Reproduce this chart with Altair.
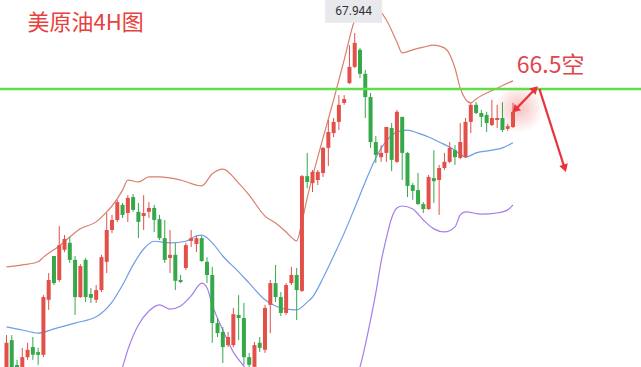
import altair as alt
import pandas as pd

# 4H candles for US crude (oldest first)
opens = [59.20, 60.02, 59.38, 59.12, 59.58, 59.84, 59.71, 59.64, 61.06, 62.19,
         61.57, 62.35, 62.53, 62.09, 61.13, 62.09, 61.21, 61.06, 61.31, 62.04,
         62.86, 63.12, 63.51, 63.30, 63.71, 63.33, 63.22, 63.33, 63.43, 63.14,
         62.65, 62.14, 62.22, 61.57, 61.88, 62.58, 62.50, 62.65, 62.04, 61.70,
         60.46, 60.23, 59.89, 59.89, 60.67, 60.59, 59.58, 59.33, 59.95, 59.77,
         60.93, 61.49, 61.13, 60.72, 61.49, 61.70, 61.29, 64.25, 64.07, 64.15,
         64.33, 64.98, 65.36, 65.65, 66.14, 66.65, 67.07, 67.51, 66.89, 66.29,
         65.13, 64.74, 64.85, 65.49, 64.62, 65.78, 64.85, 64.02, 63.89, 63.53,
         63.40, 64.20, 64.15, 64.46, 64.62, 64.92, 64.72, 64.74, 65.65, 66.09,
         65.88, 65.83, 65.57, 65.70, 65.75, 65.47, 65.52]
closes = [59.95, 59.25, 58.99, 59.58, 59.77, 59.64, 59.64, 61.13, 61.57, 61.49,
          62.47, 62.63, 62.09, 61.13, 61.93, 61.13, 61.11, 61.31, 62.16, 62.86,
          63.12, 63.58, 63.25, 63.69, 63.38, 63.07, 63.30, 63.43, 63.12, 62.65,
          62.09, 62.22, 61.55, 61.52, 62.47, 62.65, 62.65, 62.06, 61.70, 60.46,
          60.20, 59.84, 60.10, 60.69, 60.59, 59.58, 59.38, 59.89, 59.82, 60.85,
          61.49, 61.13, 60.72, 61.44, 61.70, 61.31, 64.25, 64.10, 64.36, 64.36,
          64.98, 65.39, 65.65, 66.09, 66.24, 67.07, 67.69, 66.89, 66.29, 65.13,
          64.80, 64.85, 65.52, 64.67, 65.91, 64.85, 64.00, 63.87, 63.53, 63.40,
          64.23, 64.12, 64.46, 64.62, 64.98, 64.74, 65.13, 65.65, 66.09, 65.88,
          65.78, 65.62, 65.75, 65.75, 65.44, 65.54, 65.91]
highs = [60.15, 60.15, 59.51, 59.82, 59.95, 60.10, 59.82, 61.18, 61.75, 62.19,
         62.96, 62.73, 62.68, 62.19, 61.98, 62.14, 61.36, 61.44, 62.22, 63.30,
         63.25, 63.64, 63.56, 63.76, 63.79, 63.56, 63.76, 63.58, 63.51, 63.25,
         63.12, 62.86, 62.53, 61.70, 62.53, 62.86, 62.71, 62.71, 62.16, 61.91,
         60.59, 60.36, 60.23, 60.85, 61.18, 60.98, 59.69, 59.97, 60.10, 60.93,
         61.57, 61.96, 61.26, 61.49, 61.91, 61.88, 64.28, 64.85, 64.41, 64.41,
         65.00, 65.70, 65.75, 66.34, 66.34, 67.63, 67.944, 67.56, 66.99, 66.40,
         65.29, 65.05, 65.52, 65.62, 65.96, 65.78, 64.87, 64.07, 64.33, 63.58,
         64.28, 64.92, 64.54, 64.85, 65.13, 65.05, 65.62, 65.75, 66.14, 66.16,
         65.96, 65.91, 66.22, 66.09, 66.16, 65.60, 66.14]
lows = [59.12, 59.12, 58.86, 59.04, 59.51, 59.51, 59.38, 59.58, 60.80, 61.44,
        61.52, 62.29, 62.01, 60.67, 61.11, 61.00, 60.98, 60.98, 61.26, 61.75,
        62.78, 63.07, 63.17, 63.07, 63.33, 62.65, 62.86, 63.17, 62.81, 62.60,
        62.01, 61.75, 61.31, 61.49, 61.83, 62.42, 62.29, 62.04, 61.49, 59.95,
        60.10, 59.43, 59.84, 59.84, 60.02, 59.38, 59.30, 59.25, 59.71, 59.69,
        60.20, 61.00, 60.64, 60.67, 61.44, 60.54, 61.26, 63.94, 63.84, 64.02,
        64.23, 64.51, 65.26, 65.44, 66.09, 66.63, 67.04, 66.78, 65.75, 64.98,
        64.59, 64.62, 64.62, 64.38, 64.59, 64.15, 63.71, 63.64, 63.51, 63.30,
        63.38, 63.56, 63.25, 64.41, 64.59, 64.54, 64.69, 64.72, 65.36, 65.85,
        65.52, 65.39, 65.54, 65.49, 65.39, 65.42, 65.49]

# Bollinger bands, sampled at candle indices
upper_idx = [0, 3, 6, 7, 10, 12, 14, 17, 19, 20, 22, 23, 25, 27, 29, 33, 37, 39, 41, 44,
             46, 49, 51, 53, 55, 56, 57, 59, 62, 64, 66, 67, 68, 70, 72, 74, 75, 77, 79,
             81, 83, 85, 86, 88, 89, 93, 96]
upper_val = [61.91, 61.96, 62.04, 62.16, 62.45, 62.68, 62.89, 63.07, 63.33, 63.48, 63.89,
             64.15, 64.10, 64.23, 64.23, 64.15, 64.00, 64.31, 64.43, 64.07, 63.76, 63.22,
             63.04, 62.81, 62.58, 63.07, 63.69, 64.74, 66.22, 67.25, 68.28, 68.54, 68.61,
             68.59, 68.28, 67.71, 67.43, 67.51, 67.58, 67.63, 67.56, 67.04, 66.52, 66.14,
             66.24, 66.52, 66.71]
mid_idx = [0, 3, 6, 9, 13, 17, 20, 22, 24, 26, 28, 31, 34, 36, 37, 39, 41, 44, 46, 49,
           51, 53, 55, 57, 58, 60, 62, 64, 66, 68, 70, 72, 74, 76, 78, 80, 82, 84, 86, 87,
           89, 92, 94, 96]
mid_val = [60.36, 60.28, 60.20, 60.31, 60.46, 60.62, 61.00, 61.44, 61.96, 62.37, 62.57,
           62.53, 62.57, 62.71, 62.73, 62.53, 62.19, 61.78, 61.49, 61.06, 60.90, 60.82,
           60.80, 61.00, 61.13, 61.62, 62.19, 62.78, 63.43, 64.10, 64.72, 65.16, 65.39,
           65.44, 65.36, 65.26, 65.13, 65.00, 64.82, 64.74, 64.85, 64.92, 64.98, 65.11]
lower_idx = [0, 8, 16, 20, 22, 23, 25, 27, 29, 31, 33, 35, 37, 38, 39, 41, 43, 45, 47, 50,
             54, 58, 62, 65, 67, 68, 69, 70, 71, 72, 73, 74, 75, 77, 79, 81, 83, 85, 86,
             87, 90, 93, 95, 96]
lower_val = [58.60, 58.48, 58.60, 58.86, 59.33, 59.77, 60.41, 60.77, 60.93, 60.82, 60.90,
             61.16, 61.49, 61.37, 60.93, 60.28, 59.71, 59.35, 59.04, 58.68, 58.53, 58.48,
             58.58, 58.86, 59.33, 59.89, 60.54, 61.24, 62.04, 62.65, 63.17, 63.43, 63.48,
             63.40, 63.12, 62.89, 62.81, 62.94, 63.25, 63.33, 63.27, 63.30, 63.38, 63.51]

resistance = 66.5
peak_price = 67.944
title_text = "美原油4H图"
call_text = "66.5空"

RED = "#e2504a"
GREEN = "#35a84a"

xs = alt.Scale(domain=[-0.28, 119.31], nice=False, zero=False)
ys = alt.Scale(domain=[59.326, 68.795], nice=False, zero=False)


def X(field):
    return alt.X(field, type="quantitative", scale=xs, axis=None)


def Y(field):
    return alt.Y(field, type="quantitative", scale=ys, axis=None)


candles = pd.DataFrame({
    "i": list(range(len(opens))),
    "open": opens, "close": closes, "high": highs, "low": lows,
})
candles["dir"] = ["up" if c >= o else "down" for o, c in zip(opens, closes)]
col = alt.Color("dir:N", scale=alt.Scale(domain=["up", "down"], range=[RED, GREEN]), legend=None)

wicks = alt.Chart(candles).mark_rule(strokeWidth=1, clip=True).encode(
    x=X("i"), y=Y("low"), y2="high", color=col)
bodies = alt.Chart(candles).mark_bar(size=4, clip=True).encode(
    x=X("i"), y=Y("open"), y2="close", color=col)


def band(idx, vals, color):
    d = pd.DataFrame({"i": idx, "v": vals})
    return alt.Chart(d).mark_line(color=color, strokeWidth=1.2, interpolate="monotone",
                                  clip=True).encode(x=X("i"), y=Y("v"))


upper = band(upper_idx, upper_val, "#d9806c")
mid = band(mid_idx, mid_val, "#6f9de6")
lower = band(lower_idx, lower_val, "#a67ee8")

level = alt.Chart(pd.DataFrame({"y": [resistance]})).mark_rule(
    color="#63dc4c", strokeWidth=2.5).encode(y=Y("y"))

# price tag for the swing high
tag_box = alt.Chart(pd.DataFrame({"x": [60.4], "x2": [71.2], "y": [68.795], "y2": [68.21]})).mark_rect(
    color="#e7e9ec").encode(x=X("x"), x2="x2", y=Y("y"), y2="y2")
tag_text = alt.Chart(pd.DataFrame({"x": [65.8], "y": [68.51], "t": [f"{peak_price:.3f}"]})).mark_text(
    font="Roboto", fontSize=12, color="#333333", align="center", baseline="middle").encode(
    x=X("x"), y=Y("y"), text="t:N")

title = alt.Chart(pd.DataFrame({"x": [4.0], "y": [68.21], "t": [title_text]})).mark_text(
    font="Noto Sans CJK SC", fontSize=22, color="#e8403c", align="left", baseline="middle").encode(
    x=X("x"), y=Y("y"), text="t:N")

call = alt.Chart(pd.DataFrame({"x": [96.7], "y": [67.08], "t": [call_text]})).mark_text(
    font="Noto Sans CJK SC", fontSize=23, color="#e0464b", align="left", baseline="middle").encode(
    x=X("x"), y=Y("y"), text="t:N")

# soft red glow at the last candle, built from faint concentric discs
glow_layers = []
for s in [2200, 1700, 1300, 950, 650, 420, 240, 110]:
    glow_layers.append(
        alt.Chart(pd.DataFrame({"x": [97.2], "y": [66.0]})).mark_circle(
            color="#f06060", size=s, opacity=0.045).encode(x=X("x"), y=Y("y")))

# arrows: double-headed toward the level, then a drop
arrow1 = pd.DataFrame({"x": [96.4, 100.2], "y": [65.96, 66.50]})
arrow2 = pd.DataFrame({"x": [101.0, 105.8], "y": [66.50, 64.45]})
a1 = alt.Chart(arrow1).mark_line(color="#e8343a", strokeWidth=2.2).encode(x=X("x"), y=Y("y"))
a2 = alt.Chart(arrow2).mark_line(color="#e8343a", strokeWidth=2.2).encode(x=X("x"), y=Y("y"))
heads = pd.DataFrame({"x": [96.4, 100.2, 105.8], "y": [65.96, 66.50, 64.45], "a": [225, 45, 162]})
h = alt.Chart(heads).mark_point(shape="triangle-up", filled=True, size=80, color="#e8343a",
                                opacity=1).encode(x=X("x"), y=Y("y"), angle=alt.Angle("a:Q", scale=None))

chart = alt.layer(
    *glow_layers, upper, mid, lower, wicks, bodies, level, tag_box, tag_text,
    title, call, a1, a2, h
).properties(
    width=641, height=367, padding=0, autosize=alt.AutoSizeParams(type="none"),
    background="white"
).configure_view(stroke=None)

chart.save("out.html", embed_options={"renderer": "svg", "actions": False})
